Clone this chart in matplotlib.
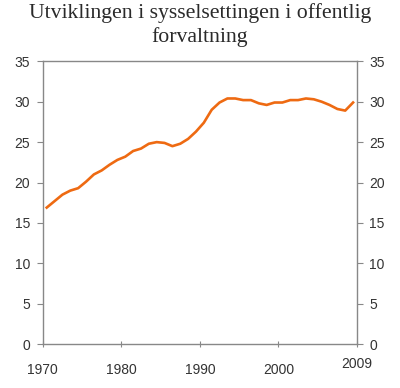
import matplotlib
matplotlib.use("Agg")
import matplotlib.pyplot as plt
import matplotlib.transforms as mtransforms
import numpy as np

years = list(range(1970, 2010))
values = [16.9, 17.7, 18.5, 19.0, 19.3, 20.1, 21.0, 21.5, 22.2, 22.8,
          23.2, 23.9, 24.2, 24.8, 25.0, 24.9, 24.5, 24.8, 25.4, 26.3,
          27.4, 29.0, 29.9, 30.4, 30.4, 30.2, 30.2, 29.8, 29.6, 29.9,
          29.9, 30.2, 30.2, 30.4, 30.3, 30.0, 29.6, 29.1, 28.9, 29.9]
xtick_pos = [1970, 1980, 1990, 2000, 2010]
xtick_labels = ["1970", "1980", "1990", "2000", "2009"]
yticks = [0, 5, 10, 15, 20, 25, 30, 35]
title = "Utviklingen i sysselsettingen i offentlig\nforvaltning"

plt.rcParams["font.family"] = ["Liberation Sans", "DejaVu Sans"]

fig = plt.figure(figsize=(4.0, 3.88), dpi=100)
ax = fig.add_axes([0.107, 0.113, 0.7855, 0.729])

x = np.array(years) + 0.5
ax.plot(x, values, color="#EE6A12", lw=1.9, solid_joinstyle="round")

ax.set_xlim(1970, 2010)
ax.set_ylim(0, 35)
ax.set_xticks(xtick_pos)
ax.set_xticklabels(xtick_labels)
ax.set_yticks(yticks)

gray = "#888888"
for s in ax.spines.values():
    s.set_color(gray)
    s.set_linewidth(1.0)

ax.tick_params(axis="y", which="both", left=True, right=True, labelleft=True,
               labelright=True, direction="out", length=4, color=gray,
               labelsize=10, labelcolor="#333333", pad=5)
ax.tick_params(axis="x", direction="inout", length=5, color=gray,
               labelsize=10, labelcolor="#333333", pad=11)

# 2009 label sits slightly higher in the reference
last = ax.get_xticklabels()[-1]
last.set_transform(last.get_transform() + mtransforms.ScaledTranslation(0, 4.5 / 72, fig.dpi_scale_trans))

fig.text(0.5, 0.992, title, ha="center", va="top", fontsize=15.7,
         family=["Liberation Serif", "DejaVu Serif"], color="#2a2a2a",
         linespacing=1.27)

fig.savefig("out.png", dpi=100)
